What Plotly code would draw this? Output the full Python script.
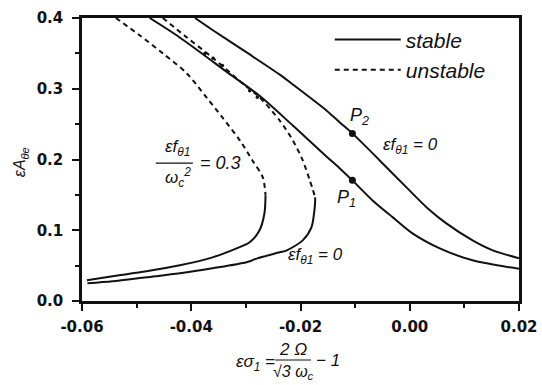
import plotly.graph_objects as go

# ---- data ----
# outer stable backbone (eps f = 0), passes through P2
a_x = [-0.0393, -0.0361, -0.0300, -0.0238, -0.0214, -0.0152, -0.0128, -0.0105, -0.0055, -0.0006, 0.0031, 0.0067, 0.0115, 0.0152, 0.0200]
a_y = [0.400, 0.383, 0.352, 0.320, 0.306, 0.269, 0.2524, 0.2369, 0.1987, 0.1606, 0.1323, 0.1097, 0.0857, 0.0716, 0.0605]

# inner stable curve through P1
b_x = [-0.0476, -0.0421, -0.0330, -0.0275, -0.0214, -0.0152, -0.0128, -0.0105, -0.0068, -0.0031, 0.0005, 0.0055, 0.0115, 0.0200]
b_y = [0.400, 0.3725, 0.321, 0.290, 0.248, 0.204, 0.1874, 0.1705, 0.1422, 0.1182, 0.0956, 0.0744, 0.0575, 0.0455]

# eps f = 0 bent curve: unstable upper branch, stable lower branch
c_dash_x = [-0.0452, -0.0408, -0.0361, -0.0306, -0.0275, -0.0238, -0.0214, -0.0196, -0.0183, -0.0173]
c_dash_y = [0.400, 0.3725, 0.344, 0.3075, 0.288, 0.255, 0.227, 0.199, 0.1705, 0.1465]
c_sol_x = [-0.0173, -0.0174, -0.0180, -0.0196, -0.0225, -0.0238, -0.0279, -0.0299, -0.0361, -0.0421, -0.0482, -0.0544, -0.0590]
c_sol_y = [0.1465, 0.132, 0.104, 0.0857, 0.0716, 0.0688, 0.0603, 0.0547, 0.0462, 0.0391, 0.0335, 0.0278, 0.0250]

# eps f / wc^2 = 0.3 bent curve
d_dash_x = [-0.0538, -0.0494, -0.0452, -0.0408, -0.0372, -0.0343, -0.0311, -0.0288, -0.0269, -0.0264]
d_dash_y = [0.400, 0.3753, 0.350, 0.3216, 0.2877, 0.2595, 0.227, 0.1987, 0.1747, 0.1493]
d_sol_x = [-0.0264, -0.0266, -0.0275, -0.0293, -0.0317, -0.0361, -0.0421, -0.0482, -0.0544, -0.0591]
d_sol_y = [0.1493, 0.124, 0.100, 0.083, 0.0744, 0.0617, 0.0504, 0.0419, 0.0349, 0.0292]

# marked points P1, P2
p_x = [-0.0105, -0.0105]
p_y = [0.1705, 0.2369]

# small touch dots near where curves meet
t_x = [-0.0375, -0.0360, -0.0343, -0.0293, -0.0279]
t_y = [0.350, 0.343, 0.333, 0.297, 0.288]

x_ticks = [-0.06, -0.04, -0.02, 0.00, 0.02]
x_labels = ["-0.06", "-0.04", "-0.02", "0.00", "0.02"]
y_ticks = [0.0, 0.1, 0.2, 0.3, 0.4]
y_labels = ["0.0", "0.1", "0.2", "0.3", "0.4"]

INK = "#111111"
LW = 2.0
DASH = "5px,4px"

fig = go.Figure()

def curve(x, y, dash, show=False, name=None):
    fig.add_trace(go.Scatter(
        x=x, y=y, mode="lines",
        line=dict(color=INK, width=LW, dash=dash, shape="spline", smoothing=0.8),
        showlegend=show, name=name, hoverinfo="skip"))

curve(a_x, a_y, "solid", True, "stable")
curve(d_dash_x, d_dash_y, DASH, True, "unstable")
curve(b_x, b_y, "solid")
curve(c_dash_x, c_dash_y, DASH)
curve(c_sol_x, c_sol_y, "solid")
curve(d_sol_x, d_sol_y, "solid")

fig.add_trace(go.Scatter(x=t_x, y=t_y, mode="markers",
                         marker=dict(color=INK, size=3.5), showlegend=False, hoverinfo="skip"))
fig.add_trace(go.Scatter(x=p_x, y=p_y, mode="markers",
                         marker=dict(color=INK, size=7), showlegend=False, hoverinfo="skip"))

TXT = dict(family="Liberation Sans, Arial, sans-serif", color=INK, style="italic")

def note(x, y, text, size=17, xref="x", yref="y", xanchor="center", **kw):
    fig.add_annotation(x=x, y=y, xref=xref, yref=yref, text=text, showarrow=False,
                       xanchor=xanchor, yanchor="middle",
                       font=dict(size=size, **TXT), **kw)

# in-plot labels
note(-0.0425, 0.2157, "εf<sub>θ1</sub>", 17)
note(-0.0425, 0.1750, "ω<sub>c</sub><sup>2</sup>", 17)
note(-0.0388, 0.1950, "= 0.3", 18, xanchor="left")
fig.add_shape(type="line", xref="x", yref="y", x0=-0.0465, x1=-0.0397, y0=0.1950, y1=0.1950,
              line=dict(color=INK, width=1.2))
note(-0.0092, 0.2610, "P<sub>2</sub>", 18)
note(0.0001, 0.2190, "εf<sub>θ1</sub> = 0", 17)
note(-0.0115, 0.1450, "P<sub>1</sub>", 18)
note(-0.0172, 0.0630, "εf<sub>θ1</sub> = 0", 17)

# y axis title
note(-0.14, 0.49, "εA<sub>θe</sub>", 16, xref="paper", yref="paper", textangle=-90)

# x axis title as a composed fraction
note(0.396, -0.218, "εσ<sub>1</sub> =", 17, xref="paper", yref="paper")
note(0.483, -0.172, "2 Ω", 17, xref="paper", yref="paper")
note(0.483, -0.254, "√3 ω<sub>c</sub>", 16, xref="paper", yref="paper")
fig.add_shape(type="line", xref="paper", yref="paper", x0=0.442, x1=0.524,
              y0=-0.2085, y1=-0.2085, line=dict(color=INK, width=1))
note(0.562, -0.2085, "− 1", 17, xref="paper", yref="paper")

axis_common = dict(
    showline=True, linecolor=INK, linewidth=2.5, mirror=True,
    ticks="outside", tickcolor=INK, tickwidth=2, ticklen=7,
    showgrid=False, zeroline=False, automargin=False,
    tickfont=dict(family="DejaVu Sans, sans-serif", size=15, color=INK, weight="bold"),
)

fig.update_xaxes(range=[-0.06, 0.02], tickvals=x_ticks, ticktext=x_labels, ticklabelstandoff=3,
                 minor=dict(dtick=0.01, ticks="outside", ticklen=4, tickcolor=INK, tickwidth=1.5),
                 **axis_common)
fig.update_yaxes(range=[0, 0.4], tickvals=y_ticks, ticktext=y_labels, ticklabelstandoff=6,
                 minor=dict(dtick=0.05, ticks="outside", ticklen=4, tickcolor=INK, tickwidth=1.5),
                 **axis_common)

fig.update_layout(
    width=542, height=385, autosize=False,
    margin=dict(l=82, r=23, t=18, b=84, autoexpand=False),
    plot_bgcolor="white", paper_bgcolor="white",
    legend=dict(x=0.567, y=0.995, xanchor="left", yanchor="top",
                bgcolor="rgba(0,0,0,0)", itemwidth=66,
                font=dict(size=21, **TXT), tracegroupgap=2),
    showlegend=True,
)

fig.write_html(
    "out.html", config={"displayModeBar": False, "responsive": False},
    post_script=("document.documentElement.style.overflow='hidden';"
                 "document.body.style.overflow='hidden';"
                 "document.body.style.margin='0px';"
                 "window.scrollTo(0,0);"))
